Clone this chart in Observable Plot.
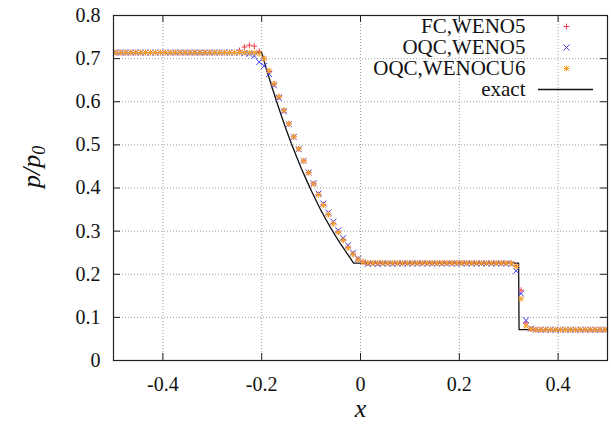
<!DOCTYPE html>
<html>
<head>
<meta charset="utf-8">
<script src="https://cdn.jsdelivr.net/npm/d3@7"></script>
<script src="https://cdn.jsdelivr.net/npm/@observablehq/plot@0.6"></script>
<style>
  html, body { margin: 0; padding: 0; background: #fff; font-family: "Liberation Serif", serif; }
  #chart svg { display: block; }
</style>
</head>
<body>
<div id="chart"></div>
<script>
// Cell centres of the 100-cell grid on [-0.5, 0.5]
const cellX = [
  -0.495,-0.485,-0.475,-0.465,-0.455,-0.445,-0.435,-0.425,-0.415,-0.405,
  -0.395,-0.385,-0.375,-0.365,-0.355,-0.345,-0.335,-0.325,-0.315,-0.305,
  -0.295,-0.285,-0.275,-0.265,-0.255,-0.245,-0.235,-0.225,-0.215,-0.205,
  -0.195,-0.185,-0.175,-0.165,-0.155,-0.145,-0.135,-0.125,-0.115,-0.105,
  -0.095,-0.085,-0.075,-0.065,-0.055,-0.045,-0.035,-0.025,-0.015,-0.005,
   0.005, 0.015, 0.025, 0.035, 0.045, 0.055, 0.065, 0.075, 0.085, 0.095,
   0.105, 0.115, 0.125, 0.135, 0.145, 0.155, 0.165, 0.175, 0.185, 0.195,
   0.205, 0.215, 0.225, 0.235, 0.245, 0.255, 0.265, 0.275, 0.285, 0.295,
   0.305, 0.315, 0.325, 0.335, 0.345, 0.355, 0.365, 0.375, 0.385, 0.395,
   0.405, 0.415, 0.425, 0.435, 0.445, 0.455, 0.465, 0.475, 0.485, 0.495
];

// Pressure p/p0, FC scheme with WENO5
const pFC = [
  0.714,0.714,0.714,0.714,0.714,0.714,0.714,0.714,0.714,0.714,
  0.714,0.714,0.714,0.714,0.714,0.714,0.714,0.714,0.714,0.714,
  0.714,0.714,0.714,0.714,0.714,0.719,0.727,0.731,0.729,0.717,
  0.700,0.670,0.641,0.611,0.580,0.549,0.519,0.491,0.463,0.436,
  0.410,0.385,0.361,0.339,0.318,0.298,0.280,0.263,0.247,0.235,
  0.229,0.226,0.226,0.226,0.226,0.226,0.226,0.226,0.226,0.226,
  0.226,0.226,0.226,0.226,0.226,0.226,0.226,0.226,0.226,0.226,
  0.226,0.226,0.226,0.226,0.226,0.226,0.226,0.226,0.226,0.226,
  0.226,0.220,0.163,0.087,0.073,0.0714,0.0714,0.0714,0.0714,0.0714,
  0.0714,0.0714,0.0714,0.0714,0.0714,0.0714,0.0714,0.0714,0.0714,0.0714
];

// Pressure p/p0, OQC scheme with WENO5
const pOQC5 = [
  0.714,0.714,0.714,0.714,0.714,0.714,0.714,0.714,0.714,0.714,
  0.714,0.714,0.714,0.714,0.714,0.714,0.714,0.714,0.714,0.714,
  0.714,0.714,0.714,0.714,0.714,0.714,0.713,0.711,0.706,0.692,
  0.683,0.664,0.638,0.609,0.578,0.548,0.518,0.490,0.463,0.436,
  0.411,0.387,0.364,0.343,0.322,0.302,0.284,0.267,0.250,0.236,
  0.228,0.224,0.225,0.224,0.225,0.225,0.224,0.225,0.225,0.225,
  0.225,0.225,0.225,0.225,0.225,0.225,0.225,0.225,0.225,0.225,
  0.225,0.225,0.225,0.225,0.225,0.225,0.225,0.225,0.225,0.225,
  0.224,0.208,0.155,0.093,0.074,0.0714,0.0714,0.0714,0.0714,0.0714,
  0.0714,0.0714,0.0714,0.0714,0.0714,0.0714,0.0714,0.0714,0.0714,0.0714
];

// Pressure p/p0, OQC scheme with WENOCU6
const pOQC6 = [
  0.714,0.714,0.714,0.714,0.714,0.714,0.714,0.714,0.714,0.714,
  0.714,0.714,0.714,0.714,0.714,0.714,0.714,0.714,0.714,0.714,
  0.714,0.714,0.714,0.714,0.714,0.714,0.714,0.714,0.714,0.711,
  0.700,0.672,0.642,0.612,0.580,0.549,0.519,0.491,0.463,0.435,
  0.409,0.384,0.360,0.338,0.317,0.297,0.279,0.261,0.246,0.234,
  0.228,0.226,0.226,0.226,0.226,0.226,0.226,0.226,0.226,0.226,
  0.226,0.226,0.226,0.226,0.226,0.226,0.226,0.226,0.226,0.226,
  0.226,0.226,0.226,0.226,0.226,0.226,0.226,0.226,0.226,0.226,
  0.225,0.218,0.143,0.080,0.073,0.0714,0.0714,0.0714,0.0714,0.0714,
  0.0714,0.0714,0.0714,0.0714,0.0714,0.0714,0.0714,0.0714,0.0714,0.0714
];

// Exact Riemann solution: left state, rarefaction fan, plateau, shock, right state
const exactX = [-0.5, -0.2, -0.19, -0.18, -0.17, -0.16, -0.15, -0.14, -0.13, -0.12, -0.11,
                -0.10, -0.09, -0.08, -0.07, -0.06, -0.05, -0.04, -0.03, -0.02, -0.014,
                0.32, 0.321, 0.5];
const exactP = [0.714, 0.714, 0.674, 0.637, 0.601, 0.567, 0.534, 0.503, 0.474, 0.446, 0.420,
                0.395, 0.371, 0.348, 0.327, 0.307, 0.288, 0.270, 0.253, 0.236, 0.226,
                0.226, 0.0714, 0.0714];

const xTicks = [-0.4, -0.2, 0, 0.2, 0.4];
const xTickLabels = ["-0.4", "-0.2", "0", "0.2", "0.4"];
const yTicks = [0, 0.1, 0.2, 0.3, 0.4, 0.5, 0.6, 0.7, 0.8];
const yTickLabels = ["0", "0.1", "0.2", "0.3", "0.4", "0.5", "0.6", "0.7", "0.8"];
const seriesNames = ["FC,WENO5", "OQC,WENO5", "OQC,WENOCU6", "exact"];

const RED = "#f03a4c", BLUE = "#3c3cf0", ORANGE = "#f5a22c";
const SERIF = "Liberation Serif";

const W = 611, H = 427;
const M = {top: 15, right: 4, bottom: 67, left: 113};
const plotW = W - M.left - M.right, plotH = H - M.top - M.bottom;
const TICK = 7;

const table = p => cellX.map((x, i) => ({x, p: p[i]}));
const fc = table(pFC), oqc5 = table(pOQC5), oqc6 = table(pOQC6);
const exact = exactX.map((x, i) => ({x, p: exactP[i]}));

// Key in the upper-right corner: label, marker, line sample
const rowDy = [11, 32, 53, 74];
const labelDx = -82, markDx = -41;
const legend = [];
seriesNames.forEach((name, i) => {
  legend.push(Plot.text([name], {
    frameAnchor: "top-right", dx: labelDx, dy: rowDy[i], textAnchor: "end", lineAnchor: "middle",
    fontSize: 21, fill: "#111"
  }));
});
legend.push(Plot.dot([0], {frameAnchor: "top-right", dx: markDx, dy: rowDy[0], symbol: "plus", r: 2, stroke: RED, strokeWidth: 1}));
legend.push(Plot.dot([0], {frameAnchor: "top-right", dx: markDx, dy: rowDy[1], symbol: "times", r: 2.8, stroke: BLUE, strokeWidth: 1}));
legend.push(Plot.dot([0], {frameAnchor: "top-right", dx: markDx, dy: rowDy[2], symbol: "plus", r: 2, stroke: ORANGE, strokeWidth: 1}));
legend.push(Plot.dot([0], {frameAnchor: "top-right", dx: markDx, dy: rowDy[2], symbol: "times", r: 2.4, stroke: ORANGE, strokeWidth: 1}));
legend.push(Plot.ruleY([0.8], {dy: rowDy[3], insetLeft: 425, insetRight: 14, stroke: "#111", strokeWidth: 1.3}));

const gridStyle = {stroke: "#a0a0a0", strokeOpacity: 1, strokeWidth: 1, strokeDasharray: "1,2"};

const chart = Plot.plot({
  width: W, height: H,
  marginTop: M.top, marginRight: M.right, marginBottom: M.bottom, marginLeft: M.left,
  style: "background: #fff; color: #111; font-size: 20px;",
  x: {domain: [-0.5, 0.5]},
  y: {domain: [0, 0.8]},
  marks: [
    Plot.gridX(xTicks, gridStyle),
    Plot.gridY(yTicks.slice(1, -1), gridStyle),
    // inward tick marks on all four sides
    Plot.ruleX(xTicks, {insetTop: plotH - TICK, stroke: "#222"}),
    Plot.ruleX(xTicks, {insetBottom: plotH - TICK, stroke: "#222"}),
    Plot.ruleY(yTicks, {insetRight: plotW - TICK, stroke: "#222"}),
    Plot.ruleY(yTicks, {insetLeft: plotW - TICK, stroke: "#222"}),
    Plot.line(exact, {x: "x", y: "p", stroke: "#111", strokeWidth: 1.3}),
    Plot.dot(fc, {x: "x", y: "p", symbol: "plus", r: 2, stroke: RED, strokeWidth: 1}),
    Plot.dot(oqc5, {x: "x", y: "p", symbol: "times", r: 2.8, stroke: BLUE, strokeWidth: 1}),
    Plot.dot(oqc6, {x: "x", y: "p", symbol: "plus", r: 2, stroke: ORANGE, strokeWidth: 1}),
    Plot.dot(oqc6, {x: "x", y: "p", symbol: "times", r: 2.4, stroke: ORANGE, strokeWidth: 1}),
    Plot.frame({stroke: "#222", strokeWidth: 1.2}),
    Plot.axisX(xTicks, {
      tickSize: 0, tickPadding: 16, label: null,
      tickFormat: d => xTickLabels[xTicks.indexOf(d)],
      fontSize: 20, fill: "#111"
    }),
    Plot.axisY(yTicks, {
      tickSize: 0, tickPadding: 13, label: null,
      tickFormat: d => yTickLabels[yTicks.indexOf(d)],
      fontSize: 20, fill: "#111"
    }),
    ...legend,
    Plot.text(["x"], {frameAnchor: "bottom", lineAnchor: "middle", dy: 48, fontSize: 26, fontStyle: "italic", fill: "#111"}),
    Plot.text(["p/p"], {frameAnchor: "left", lineAnchor: "middle", dx: -82, rotate: -90, fontSize: 26, fontStyle: "italic", fill: "#111"})
  ]
});

// Serif face: drop the default sans-serif declarations and set the family as a plain attribute
chart.querySelectorAll("style").forEach(s => s.remove());
[chart, ...chart.querySelectorAll("g, text")].forEach(el => {
  el.removeAttribute("font-family");
  el.style.removeProperty("font-family");
  el.style.removeProperty("font");
  el.removeAttribute("font-variant");
});
chart.setAttribute("font-family", SERIF);
chart.querySelectorAll("text").forEach(el => el.setAttribute("font-family", SERIF));

// Subscript on the y label
d3.select(chart).selectAll("text").each(function () {
  if (this.textContent !== "p/p") return;
  const t = d3.select(this);
  t.text(null);
  t.append("tspan").text("p/p");
  t.append("tspan").attr("dy", "0.3em").attr("font-size", "18").text("0");
});

document.getElementById("chart").appendChild(chart);
</script>
</body>
</html>
